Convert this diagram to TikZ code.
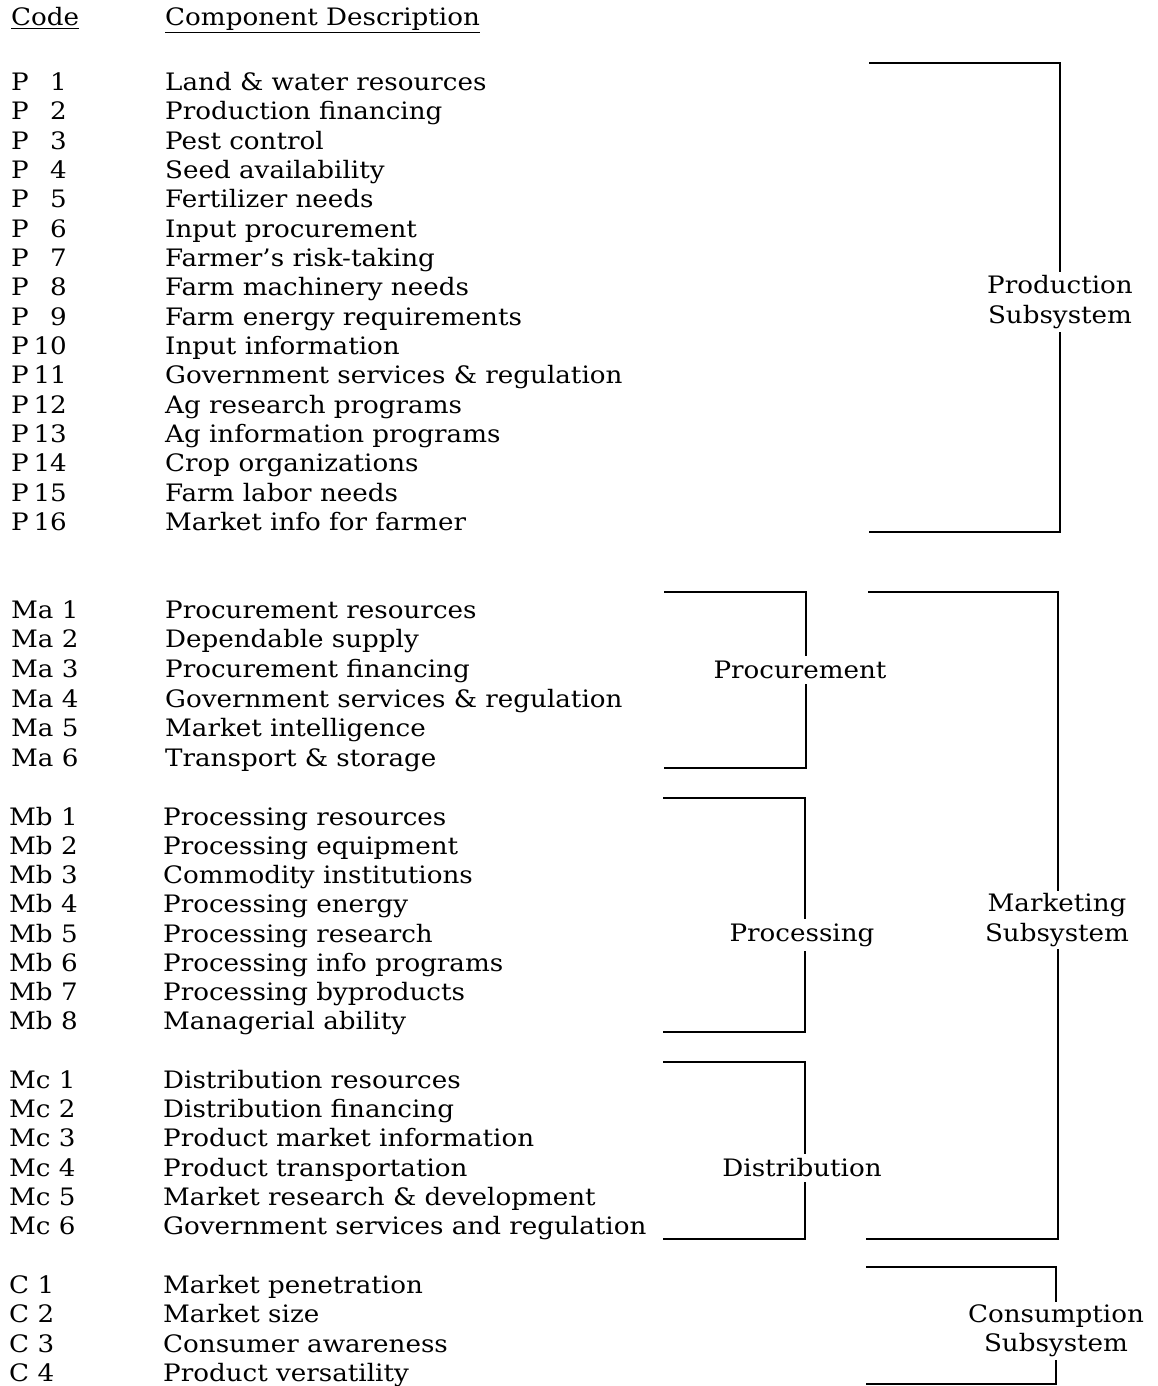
\documentclass[tikz,border=0pt]{standalone}
\usepackage{fontspec}
\setmainfont[FakeStretch=1.09]{DejaVu Serif}
\tikzset{
  cd/.style={anchor=base west, inner sep=0pt},
  nm/.style={anchor=base east, inner sep=0pt},
  ds/.style={anchor=base west, inner sep=0pt},
  br/.style={line width=2.5pt, line cap=rect, line join=miter},
  lab/.style={align=center, inner xsep=2pt},
}
\begin{document}
\begin{tikzpicture}[x=1pt,y=-1pt]
\fontsize{24}{29.4}\selectfont
\useasboundingbox (0,0) rectangle (1158,1386);
\fill[white] (0,0) rectangle (1158,1386);
% headers
\node[cd] (hcode) at (11,26) {\underline{Code}};
\node[ds] (hdesc) at (165,26) {\underline{Component Description}};
% Production
\foreach \d [count=\i] in {Land \& water resources, Production financing, Pest control, Seed availability, Fertilizer needs, Input procurement, Farmer's risk-taking, Farm machinery needs, Farm energy requirements, Input information, Government services \& regulation, Ag research programs, Ag information programs, Crop organizations, Farm labor needs, Market info for farmer}{
  \node[cd] (pc\i) at (11,{90.5+29.33*(\i-1)}) {P};
  \node[nm] (pn\i) at (67,{90.5+29.33*(\i-1)}) {\i};
  \node[ds] (pd\i) at (165,{90.5+29.33*(\i-1)}) {\d};
}
% Ma
\foreach \d [count=\i] in {Procurement resources, Dependable supply, Procurement financing, Government services \& regulation, Market intelligence, Transport \& storage}{
  \node[cd] (mac\i) at (11,{618+29.7*(\i-1)}) {Ma \i};
  \node[ds] (mad\i) at (165,{618+29.7*(\i-1)}) {\d};
}
% Mb
\foreach \d [count=\i] in {Processing resources, Processing equipment, Commodity institutions, Processing energy, Processing research, Processing info programs, Processing byproducts, Managerial ability}{
  \node[cd] (mbc\i) at (9,{825.5+29.14*(\i-1)}) {Mb \i};
  \node[ds] (mbd\i) at (163,{825.5+29.14*(\i-1)}) {\d};
}
% Mc
\foreach \d [count=\i] in {Distribution resources, Distribution financing, Product market information, Product transportation, Market research \& development, Government services and regulation}{
  \node[cd] (mcc\i) at (9,{1088.5+29.2*(\i-1)}) {Mc \i};
  \node[ds] (mcd\i) at (163,{1088.5+29.2*(\i-1)}) {\d};
}
% C
\foreach \d [count=\i] in {Market penetration, Market size, Consumer awareness, Product versatility}{
  \node[cd] (cc\i) at (9,{1293.5+29.33*(\i-1)}) {C \i};
  \node[ds] (cd\i) at (163,{1293.5+29.33*(\i-1)}) {\d};
}
% bracket labels
\node[lab, inner ysep=5pt] (lprod) at (1060,302) {Production\\Subsystem};
\node[lab, inner ysep=6pt] (lproc) at (800,670) {Procurement};
\node[lab, inner ysep=6pt] (lpros) at (802,935) {Processing};
\node[lab, inner ysep=6pt] (ldist) at (802,1168) {Distribution};
\node[lab, inner ysep=4pt] (lmark) at (1057,920) {Marketing\\Subsystem};
\node[lab, inner ysep=4pt] (lcons) at (1056,1331) {Consumption\\Subsystem};
% Production bracket
\coordinate (a1) at (870,63); \coordinate (a2) at (1060,63);
\coordinate (a3) at (1060,532); \coordinate (a4) at (870,532);
\draw[br] (a1) -- (a2) -- (a2 |- lprod.north);
\draw[br] (a3 |- lprod.south) -- (a3) -- (a4);
% Procurement bracket
\coordinate (b1) at (665,592); \coordinate (b2) at (806,592);
\coordinate (b3) at (806,768); \coordinate (b4) at (665,768);
\draw[br] (b1) -- (b2) -- (b2 |- lproc.north);
\draw[br] (b3 |- lproc.south) -- (b3) -- (b4);
% Processing bracket
\coordinate (c1) at (664,798); \coordinate (c2) at (805,798);
\coordinate (c3) at (805,1032); \coordinate (c4) at (664,1032);
\draw[br] (c1) -- (c2) -- (c2 |- lpros.north);
\draw[br] (c3 |- lpros.south) -- (c3) -- (c4);
% Distribution bracket
\coordinate (d1) at (664,1062); \coordinate (d2) at (805,1062);
\coordinate (d3) at (805,1239); \coordinate (d4) at (664,1239);
\draw[br] (d1) -- (d2) -- (d2 |- ldist.north);
\draw[br] (d3 |- ldist.south) -- (d3) -- (d4);
% Marketing bracket
\coordinate (e1) at (869,592); \coordinate (e2) at (1058,592);
\coordinate (e3) at (1058,1239); \coordinate (e4) at (867,1239);
\draw[br] (e1) -- (e2) -- (e2 |- lmark.north);
\draw[br] (e3 |- lmark.south) -- (e3) -- (e4);
% Consumption bracket
\coordinate (f1) at (867,1267); \coordinate (f2) at (1056,1267);
\coordinate (f3) at (1056,1384); \coordinate (f4) at (867,1384);
\draw[br] (f1) -- (f2) -- (f2 |- lcons.north);
\draw[br] (f3 |- lcons.south) -- (f3) -- (f4);
\end{tikzpicture}
\end{document}
